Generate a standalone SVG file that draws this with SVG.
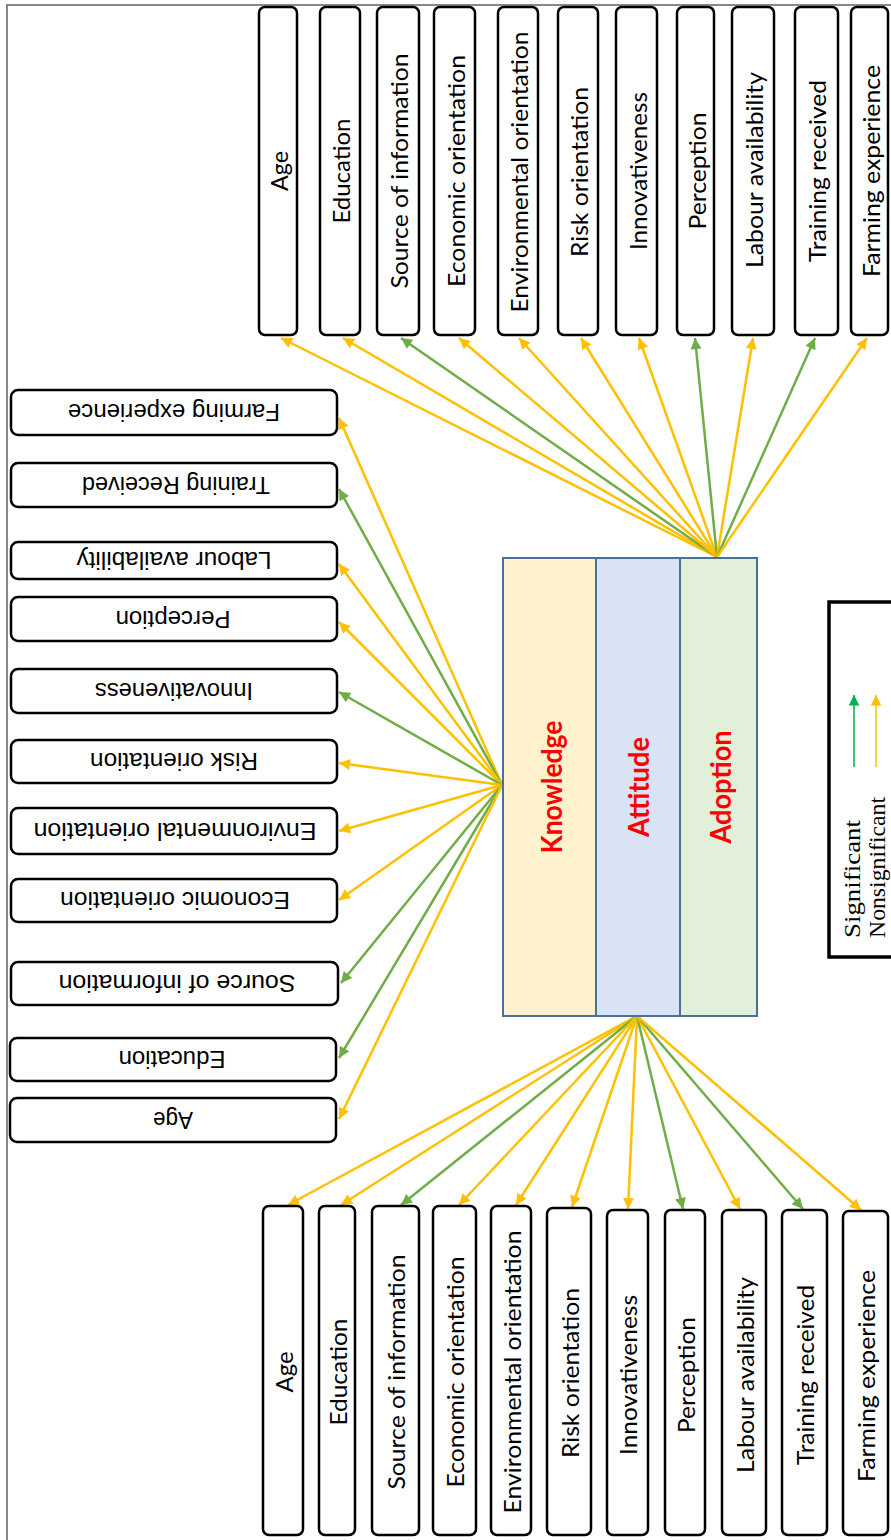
<svg xmlns="http://www.w3.org/2000/svg" width="891" height="1540" viewBox="0 0 891 1540">
<style>
.box{fill:#fff;stroke:#000;stroke-width:2.5}
.vt{font-family:Lato,"Open Sans",sans-serif;font-size:24px;fill:#000;text-anchor:middle;dominant-baseline:central}
.lt{font-family:"Liberation Sans",Arial,sans-serif;font-size:23px;fill:#000;text-anchor:middle;dominant-baseline:central}
.ct{font-family:Lato,"Open Sans",sans-serif;font-size:29px;font-weight:bold;fill:#FF0000;text-anchor:middle;dominant-baseline:central}
.lg{font-family:"Liberation Serif","Times New Roman",serif;font-size:24px;fill:#000;dominant-baseline:central}
.y{stroke:#FFC000;stroke-width:2.5;fill:none;marker-end:url(#ay)}
.g{stroke:#70AD47;stroke-width:2.5;fill:none;marker-end:url(#ag)}
.col{stroke:#4A709A;stroke-width:2}
</style>
<defs>
<marker id="ay" viewBox="0 0 10 10" refX="10" refY="5" markerWidth="5" markerHeight="4.4" orient="auto" markerUnits="strokeWidth"><path d="M0,0 L10,5 L0,10 z" fill="#FFC000"/></marker>
<marker id="ag" viewBox="0 0 10 10" refX="10" refY="5" markerWidth="5" markerHeight="4.4" orient="auto" markerUnits="strokeWidth"><path d="M0,0 L10,5 L0,10 z" fill="#70AD47"/></marker>
<marker id="lgg" viewBox="0 0 10 10" refX="10" refY="5" markerWidth="7" markerHeight="8" orient="auto" markerUnits="strokeWidth"><path d="M0,0 L10,5 L0,10 z" fill="#00B050"/></marker>
<marker id="lgy" viewBox="0 0 10 10" refX="10" refY="5" markerWidth="7" markerHeight="8" orient="auto" markerUnits="strokeWidth"><path d="M0,0 L10,5 L0,10 z" fill="#FFC000"/></marker>
</defs>

<rect x="7" y="5" width="900" height="1560" fill="#fff" stroke="#888" stroke-width="2"/>

<g id="connectors">
  <line class="y" x1="717" y1="557" x2="281" y2="338"/>
  <line class="y" x1="717" y1="557" x2="343" y2="338"/>
  <line class="g" x1="717" y1="557" x2="401" y2="338"/>
  <line class="y" x1="717" y1="557" x2="459" y2="338"/>
  <line class="y" x1="717" y1="557" x2="519" y2="338"/>
  <line class="y" x1="717" y1="557" x2="581" y2="338"/>
  <line class="y" x1="717" y1="557" x2="639" y2="338"/>
  <line class="g" x1="717" y1="557" x2="695" y2="338"/>
  <line class="y" x1="717" y1="557" x2="753" y2="338"/>
  <line class="g" x1="717" y1="557" x2="815" y2="338"/>
  <line class="y" x1="717" y1="557" x2="867" y2="338"/>
  <line class="y" x1="502" y1="785" x2="339" y2="418"/>
  <line class="g" x1="502" y1="785" x2="339" y2="489"/>
  <line class="y" x1="502" y1="785" x2="339" y2="564"/>
  <line class="y" x1="502" y1="785" x2="339" y2="622"/>
  <line class="g" x1="502" y1="785" x2="339" y2="692"/>
  <line class="y" x1="502" y1="785" x2="339" y2="763"/>
  <line class="y" x1="502" y1="785" x2="339" y2="831"/>
  <line class="y" x1="502" y1="785" x2="339" y2="900"/>
  <line class="g" x1="502" y1="785" x2="341" y2="983"/>
  <line class="g" x1="502" y1="785" x2="339" y2="1058"/>
  <line class="y" x1="502" y1="785" x2="339" y2="1119"/>
  <line class="y" x1="637" y1="1016" x2="288" y2="1205"/>
  <line class="y" x1="637" y1="1016" x2="341" y2="1205"/>
  <line class="g" x1="637" y1="1016" x2="401" y2="1205"/>
  <line class="y" x1="637" y1="1016" x2="459" y2="1205"/>
  <line class="y" x1="637" y1="1016" x2="516" y2="1205"/>
  <line class="y" x1="637" y1="1016" x2="572" y2="1207"/>
  <line class="y" x1="637" y1="1016" x2="628" y2="1209"/>
  <line class="g" x1="637" y1="1016" x2="683" y2="1209"/>
  <line class="y" x1="637" y1="1016" x2="740" y2="1209"/>
  <line class="g" x1="637" y1="1016" x2="803" y2="1209"/>
  <line class="y" x1="637" y1="1016" x2="861" y2="1210"/>
</g>

<g id="center">
  <rect x="503" y="558" width="93" height="458" fill="#FFF2CC" class="col"/>
  <rect x="596" y="558" width="84" height="458" fill="#DAE3F3" class="col"/>
  <rect x="680" y="558" width="77" height="458" fill="#E2F0D9" class="col"/>
  <text class="ct" transform="translate(550,787) rotate(-90)" textLength="133" lengthAdjust="spacingAndGlyphs">Knowledge</text>
  <text class="ct" transform="translate(637,787) rotate(-90)" textLength="100" lengthAdjust="spacingAndGlyphs">Attitude</text>
  <text class="ct" transform="translate(719,787) rotate(-90)" textLength="113" lengthAdjust="spacingAndGlyphs">Adoption</text>
</g>

<g id="top-nodes">
  <g id="t-age"><rect class="box" x="259" y="7" width="38" height="328" rx="6"/><text class="vt" transform="translate(278,171) rotate(-90)" textLength="40" lengthAdjust="spacingAndGlyphs">Age</text></g>
  <g id="t-edu"><rect class="box" x="320" y="7" width="40" height="328" rx="6"/><text class="vt" transform="translate(340,171) rotate(-90)" textLength="105" lengthAdjust="spacingAndGlyphs">Education</text></g>
  <g id="t-src"><rect class="box" x="377" y="7" width="42" height="328" rx="6"/><text class="vt" transform="translate(398,171) rotate(-90)" textLength="235" lengthAdjust="spacingAndGlyphs">Source of information</text></g>
  <g id="t-eco"><rect class="box" x="434" y="7" width="41" height="328" rx="6"/><text class="vt" transform="translate(455,171) rotate(-90)" textLength="232" lengthAdjust="spacingAndGlyphs">Economic orientation</text></g>
  <g id="t-env"><rect class="box" x="498" y="7" width="40" height="328" rx="6"/><text class="vt" transform="translate(518,172) rotate(-90)" textLength="281" lengthAdjust="spacingAndGlyphs">Environmental orientation</text></g>
  <g id="t-risk"><rect class="box" x="558" y="7" width="40" height="328" rx="6"/><text class="vt" transform="translate(578,172) rotate(-90)" textLength="170" lengthAdjust="spacingAndGlyphs">Risk orientation</text></g>
  <g id="t-inn"><rect class="box" x="616" y="7" width="41" height="328" rx="6"/><text class="vt" transform="translate(637,171) rotate(-90)" textLength="158" lengthAdjust="spacingAndGlyphs">Innovativeness</text></g>
  <g id="t-per"><rect class="box" x="677" y="7" width="37" height="328" rx="6"/><text class="vt" transform="translate(696,171) rotate(-90)" textLength="117" lengthAdjust="spacingAndGlyphs">Perception</text></g>
  <g id="t-lab"><rect class="box" x="732" y="7" width="42" height="328" rx="6"/><text class="vt" transform="translate(753,170) rotate(-90)" textLength="196" lengthAdjust="spacingAndGlyphs">Labour availability</text></g>
  <g id="t-tra"><rect class="box" x="795" y="7" width="43" height="328" rx="6"/><text class="vt" transform="translate(816,171) rotate(-90)" textLength="182" lengthAdjust="spacingAndGlyphs">Training received</text></g>
  <g id="t-far"><rect class="box" x="851" y="7" width="37" height="328" rx="6"/><text class="vt" transform="translate(870,171) rotate(-90)" textLength="212" lengthAdjust="spacingAndGlyphs">Farming experience</text></g>
</g>

<g id="left-nodes">
  <g id="l-far"><rect class="box" x="11" y="390" width="326" height="45" rx="7"/><text class="lt" transform="translate(174,412) rotate(180)" textLength="212" lengthAdjust="spacingAndGlyphs">Farming experience</text></g>
  <g id="l-tra"><rect class="box" x="11" y="463" width="326" height="44" rx="7"/><text class="lt" transform="translate(176,485) rotate(180)" textLength="188" lengthAdjust="spacingAndGlyphs">Training Received</text></g>
  <g id="l-lab"><rect class="box" x="11" y="542" width="326" height="37" rx="7"/><text class="lt" transform="translate(174,560) rotate(180)" textLength="195" lengthAdjust="spacingAndGlyphs">Labour availability</text></g>
  <g id="l-per"><rect class="box" x="11" y="597" width="326" height="44" rx="7"/><text class="lt" transform="translate(173,619) rotate(180)" textLength="115" lengthAdjust="spacingAndGlyphs">Perception</text></g>
  <g id="l-inn"><rect class="box" x="11" y="669" width="326" height="44" rx="7"/><text class="lt" transform="translate(174,691) rotate(180)" textLength="158" lengthAdjust="spacingAndGlyphs">Innovativeness</text></g>
  <g id="l-risk"><rect class="box" x="11" y="740" width="326" height="43" rx="7"/><text class="lt" transform="translate(174,761) rotate(180)" textLength="168" lengthAdjust="spacingAndGlyphs">Risk orientation</text></g>
  <g id="l-env"><rect class="box" x="11" y="808" width="326" height="46" rx="7"/><text class="lt" transform="translate(175,831) rotate(180)" textLength="283" lengthAdjust="spacingAndGlyphs">Environmental orientation</text></g>
  <g id="l-eco"><rect class="box" x="11" y="879" width="326" height="43" rx="7"/><text class="lt" transform="translate(175,900) rotate(180)" textLength="230" lengthAdjust="spacingAndGlyphs">Economic orientation</text></g>
  <g id="l-src"><rect class="box" x="11" y="962" width="327" height="43" rx="7"/><text class="lt" transform="translate(177,983) rotate(180)" textLength="237" lengthAdjust="spacingAndGlyphs">Source of information</text></g>
  <g id="l-edu"><rect class="box" x="10" y="1038" width="326" height="43" rx="7"/><text class="lt" transform="translate(172,1059) rotate(180)" textLength="107" lengthAdjust="spacingAndGlyphs">Education</text></g>
  <g id="l-age"><rect class="box" x="10" y="1098" width="326" height="44" rx="7"/><text class="lt" transform="translate(173,1120) rotate(180)" textLength="40" lengthAdjust="spacingAndGlyphs">Age</text></g>
</g>

<g id="bottom-nodes">
  <g id="b-age"><rect class="box" x="263" y="1206" width="40" height="329" rx="6"/><text class="vt" transform="translate(283,1372) rotate(-90)" textLength="41" lengthAdjust="spacingAndGlyphs">Age</text></g>
  <g id="b-edu"><rect class="box" x="319" y="1206" width="36" height="329" rx="6"/><text class="vt" transform="translate(337,1372) rotate(-90)" textLength="107" lengthAdjust="spacingAndGlyphs">Education</text></g>
  <g id="b-src"><rect class="box" x="372" y="1206" width="47" height="329" rx="6"/><text class="vt" transform="translate(395,1372) rotate(-90)" textLength="235" lengthAdjust="spacingAndGlyphs">Source of information</text></g>
  <g id="b-eco"><rect class="box" x="433" y="1206" width="43" height="329" rx="6"/><text class="vt" transform="translate(454,1372) rotate(-90)" textLength="231" lengthAdjust="spacingAndGlyphs">Economic orientation</text></g>
  <g id="b-env"><rect class="box" x="491" y="1206" width="40" height="329" rx="6"/><text class="vt" transform="translate(511,1372) rotate(-90)" textLength="283" lengthAdjust="spacingAndGlyphs">Environmental orientation</text></g>
  <g id="b-risk"><rect class="box" x="547" y="1208" width="44" height="327" rx="6"/><text class="vt" transform="translate(569,1373) rotate(-90)" textLength="170" lengthAdjust="spacingAndGlyphs">Risk orientation</text></g>
  <g id="b-inn"><rect class="box" x="607" y="1210" width="41" height="325" rx="6"/><text class="vt" transform="translate(627,1375) rotate(-90)" textLength="160" lengthAdjust="spacingAndGlyphs">Innovativeness</text></g>
  <g id="b-per"><rect class="box" x="665" y="1210" width="40" height="325" rx="6"/><text class="vt" transform="translate(685,1375) rotate(-90)" textLength="116" lengthAdjust="spacingAndGlyphs">Perception</text></g>
  <g id="b-lab"><rect class="box" x="722" y="1210" width="44" height="325" rx="6"/><text class="vt" transform="translate(744,1375) rotate(-90)" textLength="196" lengthAdjust="spacingAndGlyphs">Labour availability</text></g>
  <g id="b-tra"><rect class="box" x="782" y="1210" width="45" height="325" rx="6"/><text class="vt" transform="translate(804,1375) rotate(-90)" textLength="180" lengthAdjust="spacingAndGlyphs">Training received</text></g>
  <g id="b-far"><rect class="box" x="843" y="1211" width="45" height="324" rx="6"/><text class="vt" transform="translate(865,1376) rotate(-90)" textLength="212" lengthAdjust="spacingAndGlyphs">Farming experience</text></g>
</g>

<g id="legend">
  <rect x="829" y="602" width="90" height="355" fill="#fff" stroke="#000" stroke-width="3.5"/>
  <line x1="854" y1="767" x2="854" y2="695" stroke="#00B050" stroke-width="1.5" marker-end="url(#lgg)"/>
  <line x1="876" y1="767" x2="876" y2="695" stroke="#FFC000" stroke-width="1.5" marker-end="url(#lgy)"/>
  <text class="lg" transform="translate(852,938) rotate(-90)" textLength="118" lengthAdjust="spacingAndGlyphs">Significant</text>
  <text class="lg" transform="translate(877,938) rotate(-90)" textLength="141" lengthAdjust="spacingAndGlyphs">Nonsignificant</text>
</g>
</svg>
